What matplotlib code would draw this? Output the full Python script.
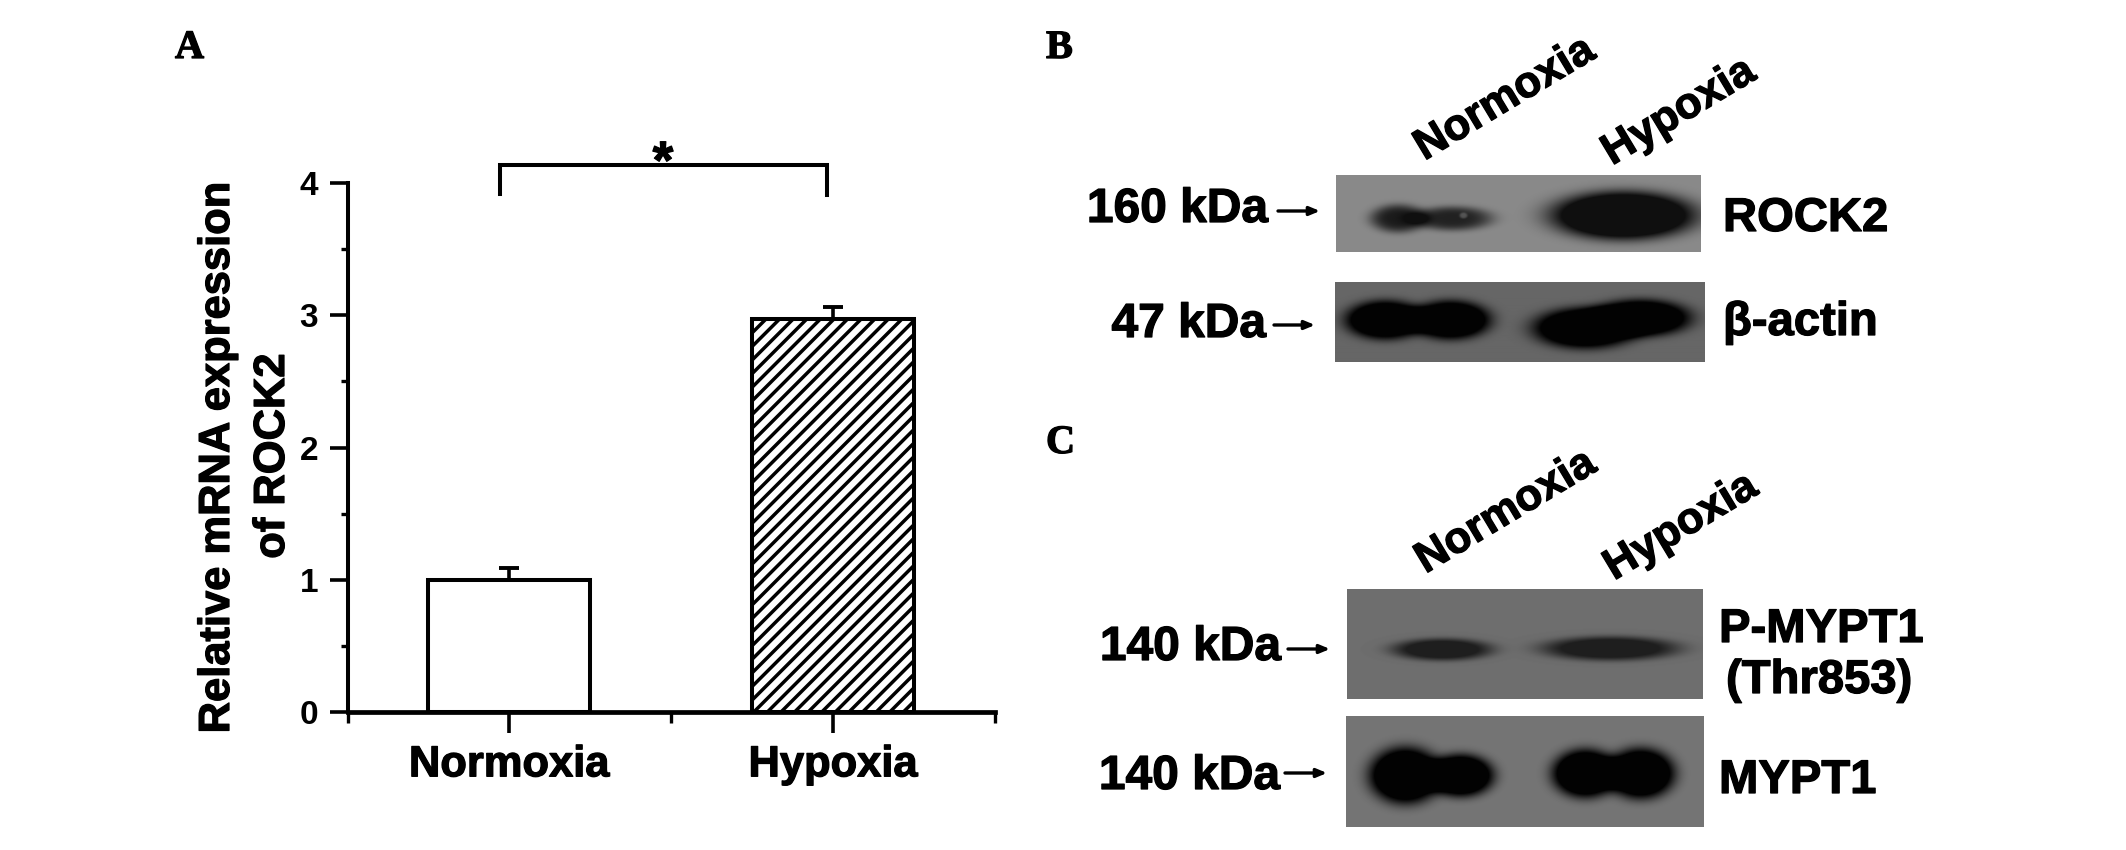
"""
Bar chart of ROCK2 mRNA plus the two western blot panels
"""

import numpy as np
import matplotlib
matplotlib.use('Agg')
import matplotlib.pyplot as plt
import matplotlib.patheffects as pe
from matplotlib.text import Text
from matplotlib.ticker import MultipleLocator

W, H = 2126, 850

# panel A values
conditions = ['Normoxia', 'Hypoxia']
expression = [1.0, 2.97]
expression_err = [0.09, 0.09]
y_major = [0, 1, 2, 3, 4]

# blots: (left, right, top, bottom, background grey, band grey)
blot_boxes = {
    'rock2': (1336, 1701, 175, 252, 0.54, 0.06),
    'actin': (1335, 1705, 283, 362, 0.40, 0.01),
    'pmypt': (1347, 1703, 589, 699, 0.43, 0.12),
    'mypt': (1346, 1704, 716, 827, 0.46, 0.01),
}
# band lobes: (centre x, centre y, half width, half height, strength)
blot_lobes = {
    'rock2': [(1398, 218, 28, 14, 0.9), (1452, 218, 40, 12, 0.85), (1463, 215, 4, 3, -0.4),
              (1623, 215, 72, 24, 1.7)],
    'actin': [(1385, 320, 40, 19, 1.7), (1450, 320, 40, 19, 1.7),
              (1585, 328, 52, 20, 1.7), (1640, 318, 50, 18, 1.7)],
    'pmypt': [(1442, 649, 50, 11, 1.3), (1610, 648, 68, 12, 1.3)],
    'mypt': [(1405, 775, 36, 28, 1.7), (1460, 775, 33, 21, 1.7),
             (1585, 773, 33, 24, 1.7), (1640, 773, 34, 25, 1.7)],
}

# text labels: (string, x, baseline y)
kda_labels = [('160 kDa', 1268, 222), ('47 kDa', 1266, 337), ('140 kDa', 1281, 660), ('140 kDa', 1280, 789)]
protein_labels = [('ROCK2', 1723, 231), ('β-actin', 1723, 335), ('P-MYPT1', 1719, 642),
                  ('(Thr853)', 1726, 693), ('MYPT1', 1719, 793)]
arrows = [(1278, 1320, 211), (1274, 1315, 325), (1288, 1330, 649), (1285, 1327, 773)]
lane_labels = [('Normoxia', 1505, 99), ('Hypoxia', 1679, 112), ('Normoxia', 1506, 512), ('Hypoxia', 1681, 527)]
panel_letters = [('A', 175, 58), ('B', 1046, 58), ('C', 1046, 453)]

plt.rcParams['font.family'] = ['Liberation Sans', 'DejaVu Sans']
plt.rcParams['font.weight'] = 'bold'

fig = plt.figure(figsize=(W / 100, H / 100), dpi=100, facecolor='white')


def px_axes(left, right, top, bottom):
    return fig.add_axes([left / W, 1 - bottom / H, (right - left) / W, (bottom - top) / H])


# Panel A
ax = px_axes(347.5, 995, 183, 712)
x_pos = [1, 2]
ax.bar(x_pos[0], expression[0], width=0.5, color='white', edgecolor='black', linewidth=2.9, zorder=3)
hyp_bar = ax.bar(x_pos[1], expression[1], width=0.5, color='white', edgecolor='black', linewidth=2.9,
                 zorder=3)[0]
ax.errorbar(x_pos, expression, yerr=[[0, 0], expression_err], fmt='none', ecolor='black',
            elinewidth=2.6, capsize=7.5, capthick=2.8, zorder=2)
ax.set_xlim(0.5, 2.5)
ax.set_ylim(0, 4)
ax.set_yticks(y_major)
ax.yaxis.set_minor_locator(MultipleLocator(0.5))
ax.set_xticks(x_pos)
ax.set_xticklabels(conditions, fontsize=31.3)
ax.xaxis.set_minor_locator(MultipleLocator(0.5))
ax.tick_params(axis='y', which='major', length=13, width=2.6, labelsize=24, pad=8)
ax.tick_params(axis='y', which='minor', length=5, width=2.4)
ax.tick_params(axis='x', which='major', length=15, width=2.6, pad=9)
ax.tick_params(axis='x', which='minor', length=8, width=2.4)
for side in ['top', 'right']:
    ax.spines[side].set_visible(False)
ax.spines['left'].set_linewidth(2.9)
ax.spines['bottom'].set_linewidth(3.4)
for side in ['left', 'bottom']:
    ax.spines[side].set_capstyle('projecting')
ax.patch.set_alpha(0)

# Full-figure overlay in pixel coordinates
ov = fig.add_axes([0, 0, 1, 1])
ov.set_xlim(0, W)
ov.set_ylim(H, 0)
ov.axis('off')
ov.patch.set_alpha(0)

# diagonal stripes of the hypoxia bar, clipped to the bar itself
(bar_left, bar_bottom), (bar_right, bar_top) = ax.transData.transform(
    [(hyp_bar.get_x(), 0), (hyp_bar.get_x() + hyp_bar.get_width(), hyp_bar.get_height())])
bar_bottom, bar_top = H - bar_bottom, H - bar_top
bar_h = bar_bottom - bar_top
for offset in np.arange(bar_left - bar_h, bar_right, 13.6):
    stripe, = ov.plot([offset, offset + bar_h], [bar_bottom, bar_top], color='black', lw=2.5, zorder=2)
    stripe.set_clip_path(hyp_bar)

ov.text(218, 457, 'Relative mRNA expression', rotation=90, ha='center', va='center', fontsize=31.3)
ov.text(273, 456, 'of ROCK2', rotation=90, ha='center', va='center', fontsize=31.3)

# significance bracket
ov.plot([500, 500, 827, 827], [194, 165, 165, 195], color='black', lw=2.9, solid_joinstyle='miter')
ov.text(663, 178, '*', ha='center', va='baseline', fontsize=38)

# blots
for key, (left, right, top, bottom, bg, dark) in blot_boxes.items():
    xx, yy = np.meshgrid(np.arange(left, right), np.arange(top, bottom))
    field = np.zeros(xx.shape)
    for cx, cy, sx, sy, strength in blot_lobes[key]:
        r2 = ((xx - cx) / sx) ** 2 + ((yy - cy) / sy) ** 2
        field += strength * np.exp(-r2 ** 2)
    field = np.clip(field, 0, 1)
    img = bg * (1 - field) + dark * field
    ov.imshow(img, cmap='gray', vmin=0, vmax=1, extent=(left, right, bottom, top),
              aspect='auto', interpolation='bilinear', zorder=1)
ov.set_xlim(0, W)
ov.set_ylim(H, 0)

for label, x, y in kda_labels:
    ov.text(x, y, label, ha='right', va='baseline', fontsize=34.5)
for label, x, y in protein_labels:
    ov.text(x, y, label, ha='left', va='baseline', fontsize=34)
for x0, x1, y in arrows:
    ov.annotate('', xy=(x1, y), xytext=(x0, y),
                arrowprops=dict(arrowstyle='-|>,head_length=0.6,head_width=0.25', color='black',
                                lw=2.4, shrinkA=0, shrinkB=0))
for label, x, y in lane_labels:
    ov.text(x, y, label, ha='center', va='center', rotation=31, rotation_mode='anchor', fontsize=31.5)
for label, x, y in panel_letters:
    ov.text(x, y, label, ha='left', va='baseline', fontsize=29, family='Liberation Serif')

# the reference lettering is heavier than plain bold
for txt in fig.findobj(Text):
    if txt.get_text():
        txt.set_path_effects([pe.withStroke(linewidth=0.9, foreground='black')])

fig.savefig('out.png', dpi=100)
